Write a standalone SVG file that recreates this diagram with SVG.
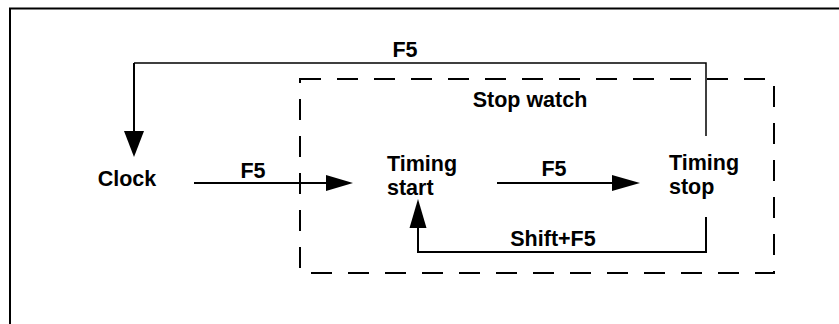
<svg xmlns="http://www.w3.org/2000/svg" width="839" height="324" viewBox="0 0 839 324">
<style>
text{font-family:"Liberation Sans",Arial,sans-serif;font-weight:bold;font-size:21.5px;fill:#000}
.ln{fill:none;stroke:#000;stroke-width:2}
.thin{fill:none;stroke:#000;stroke-width:1.5}
.dash{fill:none;stroke:#000;stroke-width:2;stroke-dasharray:21 16}
.ah{fill:#000;stroke:none}
</style>
<rect x="0" y="0" width="839" height="324" fill="#fff"/>
<rect id="frame" x="10" y="8.5" width="860" height="340" fill="none" stroke="#000" stroke-width="2"/>
<g id="stopwatch">
<rect x="300" y="79" width="474" height="194" class="dash"/>
<text x="530" y="107" text-anchor="middle">Stop watch</text>
</g>
<g id="clock"><text x="127" y="186" text-anchor="middle">Clock</text></g>
<g id="timing-start"><text x="387" y="171">Timing</text><text x="387" y="195">start</text></g>
<g id="timing-stop"><text x="669" y="170">Timing</text><text x="669" y="194">stop</text></g>
<g id="connectors">
<polyline class="thin" points="706,136 706,63 134,63"/>
<line class="ln" x1="134" y1="63" x2="134" y2="135"/>
<polygon class="ah" points="124,131 144,131 134,157"/>
<text x="405" y="57" text-anchor="middle">F5</text>
<line class="ln" x1="194" y1="183" x2="330" y2="183"/>
<polygon class="ah" points="326,175 326,191 353,183"/>
<text x="253" y="178" text-anchor="middle">F5</text>
<line class="ln" x1="497" y1="183" x2="616" y2="183"/>
<polygon class="ah" points="612,175 612,191 640,183"/>
<text x="554" y="176" text-anchor="middle">F5</text>
<polyline class="ln" points="706,217 706,252 418,252 418,224"/>
<polygon class="ah" points="409.5,228 426.5,228 418,199"/>
<text x="553" y="246" text-anchor="middle">Shift+F5</text>
</g>
</svg>
